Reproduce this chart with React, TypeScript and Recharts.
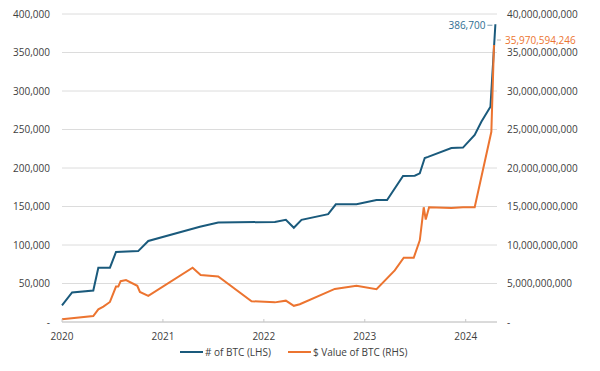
import { CartesianGrid, Line, LineChart, XAxis, YAxis } from "recharts";

const BTC_COLOR = "#1A5A7C";
const VALUE_COLOR = "#EC7430";
const GRIDLINE = "#DCDCDC";
const AXIS_TEXT = "#404040";
const FONT = "'Open Sans', sans-serif";

// time as fractional year
const btcYears = [
  2020.0, 2020.1, 2020.31, 2020.36, 2020.475, 2020.535, 2020.755, 2020.855, 2021.366, 2021.548,
  2022.109, 2022.218, 2022.297, 2022.373, 2022.637, 2022.713, 2022.918, 2023.116, 2023.221, 2023.379,
  2023.495, 2023.545, 2023.594, 2023.627, 2023.858, 2023.973, 2024.089, 2024.155, 2024.245, 2024.294,
];
const btcHeld = [
  21500, 38300, 40800, 70500, 70500, 90900, 92100, 105200, 123800, 129200,
  130000, 132700, 122400, 132700, 140000, 152800, 153000, 158300, 158400, 189700,
  190000, 193000, 213000, 214500, 226000, 226500, 243000, 260000, 279500, 386700,
];

const valueYears = [
  2020.0, 2020.31, 2020.36, 2020.41, 2020.475, 2020.535, 2020.558, 2020.581, 2020.634, 2020.746,
  2020.772, 2020.855, 2021.294, 2021.374, 2021.548, 2021.878, 2022.109, 2022.218, 2022.297, 2022.356,
  2022.703, 2022.918, 2023.116, 2023.297, 2023.386, 2023.485, 2023.545, 2023.584, 2023.604, 2023.637,
  2023.858, 2023.973, 2024.089, 2024.254, 2024.28,
];
const valueUsd = [
  0.35e9, 0.78e9, 1.65e9, 2.0e9, 2.6e9, 4.6e9, 4.6e9, 5.3e9, 5.45e9, 4.7e9,
  3.9e9, 3.4e9, 7.05e9, 6.1e9, 5.9e9, 2.7e9, 2.55e9, 2.77e9, 2.1e9, 2.3e9,
  4.3e9, 4.7e9, 4.25e9, 6.7e9, 8.35e9, 8.35e9, 10.6e9, 14.9e9, 13.3e9, 14.9e9,
  14.8e9, 14.9e9, 14.9e9, 24.7e9, 35970594246,
];

const yearTicks = [2020, 2021, 2022, 2023, 2024];
const leftTicks = [0, 50000, 100000, 150000, 200000, 250000, 300000, 350000, 400000];
const rightTicks = [0, 5e9, 10e9, 15e9, 20e9, 25e9, 30e9, 35e9, 40e9];

const btcData = btcYears.map((t, i) => ({ t, btc: btcHeld[i] }));
const valueData = valueYears.map((t, i) => ({ t, usd: valueUsd[i] }));

const fmt = (v: number) => (v === 0 ? "-" : v.toLocaleString("en-US"));

function BtcEndLabel(props: any) {
  const { x, y, index, value } = props;
  if (index !== btcData.length - 1) return null;
  return (
    <g>
      <line x1={x - 8} x2={x - 3} y1={y + 1} y2={y + 1} stroke="#7A9CB0" strokeWidth={1} />
      <text x={x - 10} y={y + 1} dy="0.35em" textAnchor="end" fontSize={10} fontFamily={FONT} fill="#2E6E92">
        {Number(value).toLocaleString("en-US")}
      </text>
    </g>
  );
}

function ValueEndLabel(props: any) {
  const { x, y, index, value } = props;
  if (index !== valueData.length - 1) return null;
  return (
    <g>
      <line x1={x + 3} x2={x + 7} y1={y - 5} y2={y - 5} stroke="#B8B8B8" strokeWidth={1} />
      <text x={x + 11} y={y - 5} dy="0.35em" textAnchor="start" fontSize={10} fontFamily={FONT} fill={VALUE_COLOR}>
        {Number(value).toLocaleString("en-US")}
      </text>
    </g>
  );
}

function LegendRow() {
  const item = (color: string, label: string) => (
    <span style={{ display: "inline-flex", alignItems: "center", marginRight: 17 }}>
      <span style={{ width: 23, height: 2, background: color, marginRight: 2 }} />
      <span>{label}</span>
    </span>
  );
  return (
    <div
      style={{
        position: "absolute",
        left: 180,
        top: 342,
        fontFamily: FONT,
        fontSize: 10,
        color: AXIS_TEXT,
        whiteSpace: "nowrap",
      }}
    >
      {item(BTC_COLOR, "# of BTC (LHS)")}
      {item(VALUE_COLOR, "$ Value of BTC (RHS)")}
    </div>
  );
}

export default function App() {
  const tick = { fontSize: 10, fill: AXIS_TEXT, fontFamily: FONT };
  return (
    <div style={{ position: "absolute", left: 0, top: 0, width: 600, height: 371, background: "#fff" }}>
      <LineChart width={600} height={371} margin={{ top: 14, right: 0, left: 0, bottom: 19 }}>
        <CartesianGrid vertical={false} stroke={GRIDLINE} yAxisId="left" />
        <XAxis
          dataKey="t"
          type="number"
          domain={[2020, 2024.31]}
          ticks={yearTicks}
          allowDuplicatedCategory={false}
          tick={tick}
          tickFormatter={(v: number) => String(Math.round(v))}
          axisLine={{ stroke: "#C8C8C8" }}
          tickLine={{ stroke: "#C8C8C8" }}
          tickSize={-3}
          tickMargin={14}
          height={30}
        />
        <YAxis
          yAxisId="left"
          orientation="left"
          domain={[0, 400000]}
          ticks={leftTicks}
          tickFormatter={fmt}
          tick={tick}
          axisLine={false}
          tickLine={false}
          tickSize={0}
          tickMargin={12}
          width={62}
        />
        <YAxis
          yAxisId="right"
          orientation="right"
          domain={[0, 40e9]}
          ticks={rightTicks}
          tickFormatter={fmt}
          tick={tick}
          axisLine={false}
          tickLine={false}
          tickSize={0}
          tickMargin={10}
          width={103}
        />
        <Line
          yAxisId="left"
          data={btcData}
          dataKey="btc"
          stroke={BTC_COLOR}
          strokeWidth={2}
          dot={false}
          type="linear"
          isAnimationActive={false}
          label={<BtcEndLabel />}
        />
        <Line
          yAxisId="right"
          data={valueData}
          dataKey="usd"
          stroke={VALUE_COLOR}
          strokeWidth={2}
          dot={false}
          type="linear"
          isAnimationActive={false}
          label={<ValueEndLabel />}
        />
      </LineChart>
      <LegendRow />
    </div>
  );
}
